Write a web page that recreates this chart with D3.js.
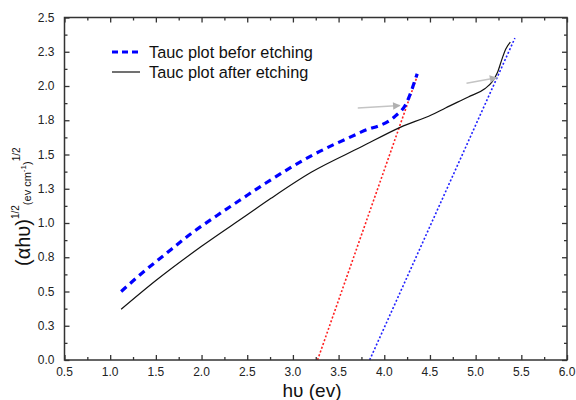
<!DOCTYPE html>
<html>
<head>
<meta charset="utf-8">
<script src="https://cdn.jsdelivr.net/npm/d3@7"></script>
<style>
  html, body { margin: 0; padding: 0; background: #fff; }
  svg { display: block; font-family: "Liberation Sans", Arial, sans-serif; }
</style>
</head>
<body>
<svg id="chart" width="576" height="400"></svg>
<script>
// Tauc plot, before etching (blue dashed)
const beforeX = [1.12, 1.35, 1.59, 1.88, 2.17, 2.45, 2.70, 3.20, 3.75, 4.12, 4.23, 4.36];
const beforeY = [0.50, 0.635, 0.765, 0.92, 1.055, 1.18, 1.29, 1.49, 1.665, 1.78, 1.86, 2.09];

// Tauc plot, after etching (black solid)
const afterX = [1.12, 1.50, 2.00, 2.50, 2.76, 3.20, 3.75, 4.18, 4.52, 4.67, 4.92, 5.10, 5.18, 5.24, 5.29, 5.33, 5.38];
const afterY = [0.37, 0.58, 0.83, 1.06, 1.18, 1.37, 1.556, 1.70, 1.79, 1.84, 1.92, 1.98, 2.03, 2.10, 2.20, 2.27, 2.32];

// linear extrapolations to the energy axis
const fitBeforeX = [3.27, 4.37];
const fitBeforeY = [0.0, 2.09];
const fitAfterX = [3.84, 5.43];
const fitAfterY = [0.0, 2.35];

// grey arrows [x0, y0, x1, y1]
const arrows = [
  [3.71, 1.84, 4.17, 1.857],
  [4.90, 2.02, 5.23, 2.06]
];

const xTickValues = [0.5, 1.0, 1.5, 2.0, 2.5, 3.0, 3.5, 4.0, 4.5, 5.0, 5.5, 6.0];
const xTickLabels = ["0.5", "1.0", "1.5", "2.0", "2.5", "3.0", "3.5", "4.0", "4.5", "5.0", "5.5", "6.0"];
const yTickValues = [0, 0.25, 0.5, 0.75, 1.0, 1.25, 1.5, 1.75, 2.0, 2.25, 2.5];
const yTickLabels = ["0.0", "0.3", "0.5", "0.8", "1.0", "1.3", "1.5", "1.8", "2.0", "2.3", "2.5"];

const legendLabels = ["Tauc plot befor etching", "Tauc plot after etching"];

const svg = d3.select('#chart');
const plotLeft = 64.5, plotRight = 567, plotTop = 17.5, plotBottom = 360;

const x = d3.scaleLinear().domain([0.5, 6.0]).range([plotLeft, plotRight]);
const y = d3.scaleLinear().domain([0, 2.5]).range([plotBottom, plotTop]);

svg.append('rect').attr('width', 576).attr('height', 400).attr('fill', '#fff');

const zip = (xs, ys) => xs.map((v, i) => [v, ys[i]]);
const line = d3.line().x(d => x(d[0])).y(d => y(d[1]));
const smooth = d3.line().x(d => x(d[0])).y(d => y(d[1])).curve(d3.curveMonotoneX);

// fit lines
svg.append('path')
  .attr('d', line(zip(fitBeforeX, fitBeforeY)))
  .attr('fill', 'none').attr('stroke', '#ff2020').attr('stroke-width', 1.6)
  .attr('stroke-dasharray', '2,2');
svg.append('path')
  .attr('d', line(zip(fitAfterX, fitAfterY)))
  .attr('fill', 'none').attr('stroke', '#2020ff').attr('stroke-width', 1.6)
  .attr('stroke-dasharray', '2,2');

// data curves
svg.append('path')
  .attr('d', smooth(zip(afterX, afterY)))
  .attr('fill', 'none').attr('stroke', '#111').attr('stroke-width', 1.2);
svg.append('path')
  .attr('d', smooth(zip(beforeX, beforeY)))
  .attr('fill', 'none').attr('stroke', '#0000ff').attr('stroke-width', 3.2)
  .attr('stroke-dasharray', '7,5');

// arrows
const defs = svg.append('defs');
defs.append('marker')
  .attr('id', 'head')
  .attr('viewBox', '0 0 10 10')
  .attr('refX', 9).attr('refY', 5)
  .attr('markerWidth', 6).attr('markerHeight', 5)
  .attr('markerUnits', 'strokeWidth')
  .attr('orient', 'auto')
  .append('path').attr('d', 'M0,0L10,5L0,10z').attr('fill', '#b0b0b0');
svg.selectAll('line.arrow')
  .data(arrows)
  .join('line')
  .attr('class', 'arrow')
  .attr('x1', d => x(d[0])).attr('y1', d => y(d[1]))
  .attr('x2', d => x(d[2])).attr('y2', d => y(d[3]))
  .attr('stroke', '#c4c4c4').attr('stroke-width', 1.5)
  .attr('marker-end', 'url(#head)');

// frame and ticks
const axisColor = '#333';
const xMinor = d3.range(0.75, 6.0, 0.5);
const yMinor = d3.range(0.125, 2.5, 0.25);

function addAxis(axis, transform) {
  const g = svg.append('g').attr('transform', transform).call(axis);
  g.select('.domain').remove();
  g.selectAll('line').attr('stroke', axisColor).attr('stroke-width', 1.3);
  g.selectAll('text').remove();
  return g;
}
addAxis(d3.axisBottom(x).tickValues(xTickValues).tickSizeInner(-5).tickSizeOuter(0), `translate(0,${plotBottom})`);
addAxis(d3.axisBottom(x).tickValues(xMinor).tickSizeInner(-3).tickSizeOuter(0), `translate(0,${plotBottom})`);
addAxis(d3.axisTop(x).tickValues(xTickValues).tickSizeInner(-5).tickSizeOuter(0), `translate(0,${plotTop})`);
addAxis(d3.axisTop(x).tickValues(xMinor).tickSizeInner(-3).tickSizeOuter(0), `translate(0,${plotTop})`);
addAxis(d3.axisLeft(y).tickValues(yTickValues).tickSizeInner(-5).tickSizeOuter(0), `translate(${plotLeft},0)`);
addAxis(d3.axisLeft(y).tickValues(yMinor).tickSizeInner(-3).tickSizeOuter(0), `translate(${plotLeft},0)`);
addAxis(d3.axisRight(y).tickValues(yTickValues).tickSizeInner(-5).tickSizeOuter(0), `translate(${plotRight},0)`);
addAxis(d3.axisRight(y).tickValues(yMinor).tickSizeInner(-3).tickSizeOuter(0), `translate(${plotRight},0)`);

svg.append('rect')
  .attr('x', plotLeft).attr('y', plotTop)
  .attr('width', plotRight - plotLeft).attr('height', plotBottom - plotTop)
  .attr('fill', 'none').attr('stroke', axisColor).attr('stroke-width', 1.5);

// tick labels
svg.append('g').selectAll('text')
  .data(xTickValues)
  .join('text')
  .attr('x', d => x(d)).attr('y', plotBottom + 16)
  .attr('text-anchor', 'middle')
  .attr('font-size', 12).attr('fill', '#222')
  .text((d, i) => xTickLabels[i]);
svg.append('g').selectAll('text')
  .data(yTickValues)
  .join('text')
  .attr('x', plotLeft - 10).attr('y', d => y(d)).attr('dy', '0.35em')
  .attr('text-anchor', 'end')
  .attr('font-size', 12).attr('fill', '#222')
  .text((d, i) => yTickLabels[i]);

// axis titles
svg.append('text')
  .attr('x', 312).attr('y', 397)
  .attr('text-anchor', 'middle')
  .attr('font-size', 19).attr('fill', '#111')
  .text('hυ (ev)');

const yTitle = svg.append('text')
  .attr('transform', 'translate(30,266) rotate(-90)')
  .attr('font-size', 20).attr('fill', '#111');
yTitle.append('tspan').text('(αhυ)');
yTitle.append('tspan').attr('font-size', 10).attr('dy', -11).text('1/2');
yTitle.append('tspan').attr('font-size', 11).attr('dy', 12).text('(ev cm');
yTitle.append('tspan').attr('font-size', 8).attr('dy', -5).text('-1');
yTitle.append('tspan').attr('font-size', 11).attr('dy', 5).text(')');
yTitle.append('tspan').attr('font-size', 10).attr('dy', -11).text('1/2');

// legend
const legend = svg.append('g');
const legendY = [52, 72];
legend.append('line')
  .attr('x1', 112).attr('x2', 139).attr('y1', legendY[0]).attr('y2', legendY[0])
  .attr('stroke', '#0000ff').attr('stroke-width', 3.2).attr('stroke-dasharray', '6,4');
legend.append('line')
  .attr('x1', 112).attr('x2', 140).attr('y1', legendY[1]).attr('y2', legendY[1])
  .attr('stroke', '#111').attr('stroke-width', 1.2);
legend.selectAll('text')
  .data(legendLabels)
  .join('text')
  .attr('x', 149).attr('y', (d, i) => legendY[i]).attr('dy', '0.36em')
  .attr('font-size', 16.3).attr('fill', '#111')
  .text(d => d);
</script>
</body>
</html>
